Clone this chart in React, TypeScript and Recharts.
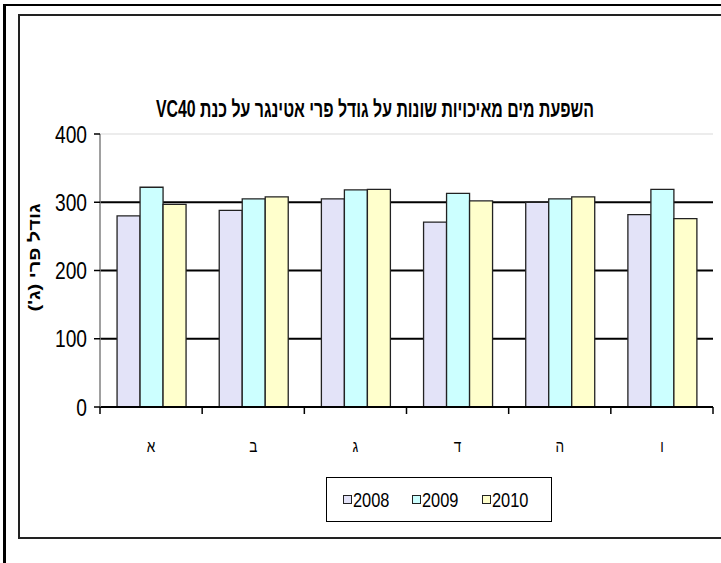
import { Bar, BarChart, CartesianGrid, Label, Legend, ReferenceLine, XAxis, YAxis } from 'recharts';

const categories = ['א', 'ב', 'ג', 'ד', 'ה', 'ו'];
const years = ['2008', '2009', '2010'];
const size2008 = [280, 288, 305, 271, 300, 282];
const size2009 = [322, 305, 318, 313, 305, 319];
const size2010 = [297, 308, 319, 302, 308, 276];
const yTicks = [0, 100, 200, 300, 400];
const gridValues = [100, 200, 300];

const title = 'השפעת מים מאיכויות שונות על גודל פרי אטינגר על כנת VC40';
const yTitle = "גודל פרי (ג')";

const colors = ['#e3e3f8', '#ccffff', '#ffffcc'];
const FONT = "'Liberation Sans', Arial, sans-serif";

const data = categories.map((name, i) => ({
  name,
  y2008: size2008[i],
  y2009: size2009[i],
  y2010: size2010[i],
}));

const YTick = ({ x, y, payload }: any) => (
  <g transform={`translate(${x - 5},${y})`}>
    <text textAnchor="end" dy="0.36em" fontSize={24} fontFamily={FONT} fill="#000" transform="scale(0.8,1)">
      {payload.value}
    </text>
  </g>
);

const XTick = ({ x, y, payload }: any) => (
  <g transform={`translate(${x},${y})`}>
    <text textAnchor="middle" y={37} fontSize={17} fontFamily={FONT} fill="#000" transform="scale(0.8,1)">
      {payload.value}
    </text>
  </g>
);

// short tick under the axis at a category boundary
const EdgeTick = (props: any) => {
  const bottom = Math.max(props.y1, props.y2);
  return <line x1={props.x1} x2={props.x1} y1={bottom} y2={bottom + 7} stroke="#000" strokeWidth={1.5} />;
};

const YTitle = ({ viewBox }: any) => {
  const cx = viewBox.x - 5;
  const cy = viewBox.y + viewBox.height / 2 - 13;
  return (
    <g transform={`translate(${cx},${cy}) rotate(-90) scale(1,0.8)`}>
      <text
        x={0}
        y={0}
        textAnchor="middle"
        dominantBaseline="central"
        direction="rtl"
        fontSize={20}
        fontWeight="bold"
        fontFamily={FONT}
        fill="#000"
      >
        {yTitle}
      </text>
    </g>
  );
};

const LegendBox = ({ payload }: any) => (
  <div
    style={{
      width: 226,
      height: 45,
      boxSizing: 'border-box',
      border: '1px solid #000',
      background: '#fff',
      display: 'flex',
      alignItems: 'center',
      paddingLeft: 16,
    }}
  >
    {(payload || []).map((p: any) => (
      <div key={p.value} style={{ width: 76, display: 'flex', alignItems: 'center' }}>
        <span
          style={{
            width: 7,
            height: 7,
            border: '1px solid #222',
            background: p.color,
            display: 'inline-block',
            marginRight: 1,
          }}
        />
        <span
          style={{
            fontFamily: FONT,
            fontSize: 20,
            color: '#000',
            display: 'inline-block',
            transform: 'scale(0.82,1)',
            transformOrigin: 'left center',
            lineHeight: '20px',
          }}
        >
          {p.value}
        </span>
      </div>
    ))}
  </div>
);

export default function App() {
  return (
    <div
      style={{
        position: 'absolute',
        left: 0,
        top: 0,
        width: 721,
        height: 563,
        overflow: 'hidden',
        background: '#fff',
      }}
    >
      <div
        style={{
          position: 'absolute',
          left: 3,
          top: 4,
          width: 900,
          height: 900,
          borderLeft: '3px solid #000',
          borderTop: '2px solid #000',
        }}
      />
      <div
        style={{
          position: 'absolute',
          left: 18,
          top: 14,
          width: 900,
          height: 525,
          boxSizing: 'border-box',
          border: '2px solid #222',
        }}
      />
      <div
        dir="rtl"
        style={{
          position: 'absolute',
          left: 375,
          top: 94,
          whiteSpace: 'nowrap',
          fontFamily: FONT,
          fontWeight: 'bold',
          fontSize: 23,
          lineHeight: '30px',
          color: '#000',
          transform: 'translateX(-50%) scale(0.69,1)',
        }}
      >
        {title}
      </div>
      <div style={{ position: 'absolute', left: 0, top: 0 }}>
        <BarChart
          width={721}
          height={563}
          data={data}
          margin={{ top: 134, right: 8, bottom: 71, left: 40 }}
          barCategoryGap="16.7%"
          barGap={0}
        >
          <CartesianGrid vertical={false} horizontalValues={gridValues} stroke="#000" strokeWidth={2} />
          <ReferenceLine y={400} stroke="#ececec" strokeWidth={2} />
          <XAxis
            dataKey="name"
            axisLine={{ stroke: '#000', strokeWidth: 2 }}
            tickLine={false}
            tick={<XTick />}
            height={40}
          />
          <YAxis
            domain={[0, 400]}
            ticks={yTicks}
            width={60}
            axisLine={{ stroke: '#808080', strokeWidth: 1.5 }}
            tickLine={{ stroke: '#000', strokeWidth: 1.5 }}
            tickSize={6}
            tick={<YTick />}
          >
            <Label content={<YTitle />} />
          </YAxis>
          {categories.map((c) => (
            <ReferenceLine key={`s-${c}`} x={c} position="start" shape={EdgeTick} ifOverflow="visible" />
          ))}
          <ReferenceLine
            x={categories[categories.length - 1]}
            position="end"
            shape={EdgeTick}
            ifOverflow="visible"
          />
          <Legend
            content={<LegendBox />}
            verticalAlign="bottom"
            width={226}
            wrapperStyle={{ left: 326, top: 477, bottom: 'auto', width: 226 }}
          />
          {years.map((yr, i) => (
            <Bar
              key={yr}
              dataKey={`y${yr}`}
              name={yr}
              fill={colors[i]}
              stroke="#222"
              strokeWidth={1.3}
              isAnimationActive={false}
            />
          ))}
        </BarChart>
      </div>
    </div>
  );
}
